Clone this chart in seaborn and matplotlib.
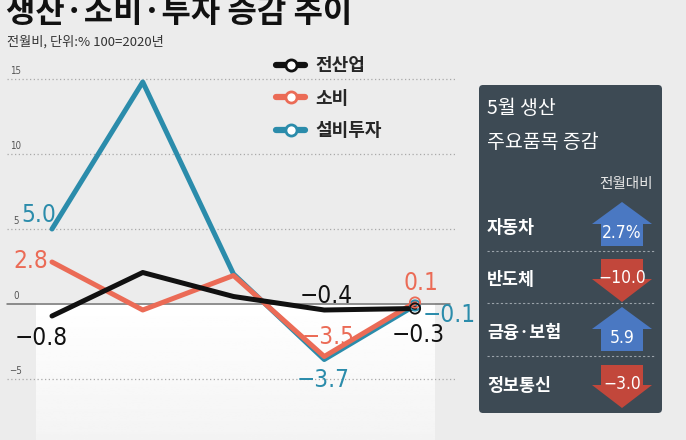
import numpy as np
import pandas as pd
import seaborn as sns
import matplotlib.pyplot as plt
from matplotlib.lines import Line2D
from matplotlib.patches import FancyBboxPatch, Polygon
from matplotlib import font_manager

# ---------------- data ----------------
months = ["1월", "2월", "3월", "4월", "5월"]
total = [-0.8, 2.1, 0.5, -0.4, -0.3]          # 전산업
consumption = [2.8, -0.4, 1.9, -3.5, 0.1]     # 소비
investment = [5.0, 14.8, 2.0, -3.7, -0.1]     # 설비투자

series_names = ["설비투자", "소비", "전산업"]
series_colors = {"전산업": "#111111", "소비": "#eb6b56", "설비투자": "#2b8cab"}
yticks = [15, 10, 5, 0, -5, -10]

items = ["자동차", "반도체", "금융·보험", "정보통신"]
changes = [2.7, -10.0, 5.9, -3.0]
change_labels = ["2.7%", "−10.0", "5.9", "−3.0"]

df = pd.DataFrame({
    "월": months * 3,
    "값": investment + consumption + total,
    "구분": ["설비투자"] * 5 + ["소비"] * 5 + ["전산업"] * 5,
})

sns.set_style("white")
plt.rcParams["font.family"] = ["Noto Sans CJK KR", "DejaVu Sans"]
num_font = font_manager.FontProperties(family="DejaVu Sans", stretch="condensed")
BG = "#ececec"

W, H = 686, 440
fig = plt.figure(figsize=(W / 100, H / 100), dpi=100, facecolor=BG)
ax = fig.add_axes([0, 0, 1, 1])
ax.set_facecolor(BG)

# pixel layout of the plot area: x index 0 at px 52, 90.75 px per step; y 0 at px 304, 15 px per unit
x0, dx, y0, dy = 52, 90.75, 304, 15
ax.set_xlim((0 - x0) / dx, (W - x0) / dx)
ax.set_ylim(-(H - y0) / dy, y0 / dy)

# white fading band below zero
grad = np.linspace(1.0, 0.955, 60).reshape(-1, 1)
ax.imshow(grad, cmap="gray", vmin=0, vmax=1, aspect="auto", zorder=0.5,
          extent=((36 - x0) / dx, (435 - x0) / dx, -(H - y0) / dy, 0))

# grid
for t in yticks:
    if t == 0:
        ax.axhline(0, xmin=7 / W, xmax=450 / W, color="#707070", lw=1.1, zorder=1)
    else:
        ax.axhline(t, xmin=7 / W, xmax=455 / W, color="#a9a9a9", lw=0.9,
                   linestyle=(0, (1, 2)), zorder=1)
    lab = str(t).replace("-", "−")
    ax.text(16 / W, t + 0.2, lab, transform=ax.get_yaxis_transform(),
            color="#555555", ha="center", va="bottom",
            fontproperties=num_font.copy(), fontsize=7)

sns.lineplot(data=df, x="월", y="값", hue="구분", hue_order=series_names,
             palette=series_colors, linewidth=3.6, sort=False, legend=False,
             ax=ax, zorder=3)

ax.set_xlim((0 - x0) / dx, (W - x0) / dx)
ax.set_ylim(-(H - y0) / dy, y0 / dy)
ax.axis("off")

# open circles at the last month
for name, vals in [("설비투자", investment), ("소비", consumption), ("전산업", total)]:
    ax.scatter([months[-1]], [vals[-1]], s=55, facecolor="none",
               edgecolor=series_colors[name], linewidth=1.3, zorder=4)

# value labels (offsets in pixels)
labels = [
    ("설비투자", 0, investment[0], (-13, 14)),
    ("소비", 0, consumption[0], (-21, 1)),
    ("전산업", 0, total[0], (-11, -22)),
    ("전산업", 3, total[3], (2, 14)),
    ("소비", 3, consumption[3], (4, 20)),
    ("설비투자", 3, investment[3], (-1, -20)),
    ("소비", 4, consumption[4], (6, 20)),
    ("전산업", 4, total[4], (3, -26)),
    ("설비투자", 4, investment[4], (34, -10)),
]
for name, i, v, off in labels:
    ax.annotate(f"{v:.1f}".replace("-", "−"), (i, v), xytext=off,
                textcoords="offset pixels", ha="center", va="center",
                color=series_colors[name], fontproperties=num_font.copy(),
                fontsize=17.5, zorder=5)

# title / subtitle (pixel positions)
fig.text(6 / W, 1 - 22 / H, "생산·소비·투자 증감 추이", fontsize=23,
         weight="heavy", va="baseline", color="#111111")
fig.text(7 / W, 1 - 42 / H, "전월비, 단위:% 100=2020년", fontsize=9.5,
         va="center", color="#333333")

# legend
handles = [Line2D([0], [0], color=series_colors[n], lw=4.5, marker="o", ms=8,
                  mfc="white", mec=series_colors[n], mew=2)
           for n in ["전산업", "소비", "설비투자"]]
leg = fig.legend(handles, ["전산업", "소비", "설비투자"], loc="upper left",
                 bbox_to_anchor=(260 / W, 1 - 40 / H), frameon=False,
                 prop={"size": 13, "weight": "bold"}, handlelength=1.6,
                 handletextpad=0.55, labelspacing=0.75)

# ---------------- right panel ----------------
ov = fig.add_axes([0, 0, 1, 1], zorder=5)
ov.set_xlim(0, W)
ov.set_ylim(H, 0)
ov.axis("off")
ov.patch.set_alpha(0)

ov.add_patch(FancyBboxPatch((479, 85), 183, 328,
                            boxstyle="round,pad=0,rounding_size=4",
                            fc="#3d4a54", ec="none"))
ov.text(487, 108, "5월 생산", fontsize=14, color="white", va="center", weight="medium")
ov.text(487, 142, "주요품목 증감", fontsize=14, color="white", va="center", weight="medium")
ov.text(653, 184, "전월대비", fontsize=10.5, color="#e6e6e6", va="center", ha="right")

row_y = [228, 280, 333, 386]
cx = 622
for k, (name, v, lab) in enumerate(zip(items, changes, change_labels)):
    r = row_y[k]
    ov.text(487, r, name, fontsize=12.5, color="white", va="center", weight="bold")
    if k < len(items) - 1:
        ov.plot([487, 655], [r + 23, r + 23], color="#9aa3aa", lw=0.8,
                linestyle=(0, (2, 2)))
    if v >= 0:
        pts = [(cx, r - 26), (cx + 30, r - 4), (cx + 21, r - 4), (cx + 21, r + 18),
               (cx - 21, r + 18), (cx - 21, r - 4), (cx - 30, r - 4)]
        col, ty = "#4a78c2", r + 5
    else:
        pts = [(cx - 21, r - 21), (cx + 21, r - 21), (cx + 21, r - 1), (cx + 30, r - 1),
               (cx, r + 22), (cx - 30, r - 1), (cx - 21, r - 1)]
        col, ty = "#c2473b", r - 2
    ov.add_patch(Polygon(pts, closed=True, fc=col, ec="none"))
    ov.text(cx, ty, lab, color="white", ha="center", va="center",
            fontproperties=num_font.copy(), fontsize=12.5)

fig.savefig("out.png", dpi=100, facecolor=BG)
